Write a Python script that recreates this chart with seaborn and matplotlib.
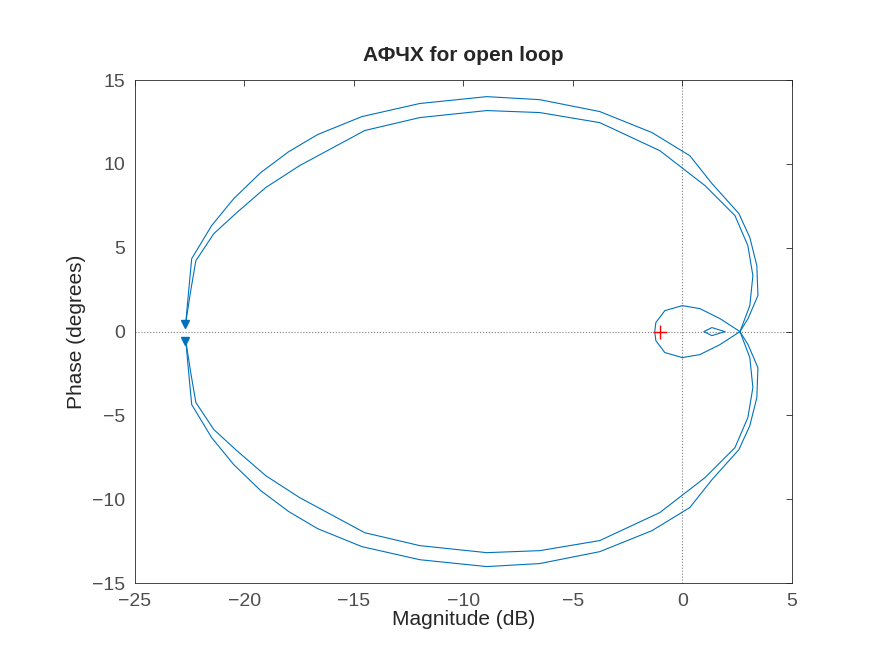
"""Nyquist-Diagramm (АФЧХ) für den offenen Regelkreis."""

import matplotlib.pyplot as plt
import seaborn as sns

# Äußere Kurve, obere Hälfte (Magnitude, Phase)
outer_up_x = [-22.67, -22.58, -22.40, -21.49, -20.48, -19.25, -17.97, -16.65, -14.63,
              -11.99, -8.93, -6.51, -3.77, -1.39, 0.34, 1.35, 2.58, 3.08, 3.40, 3.45, 3.00, 2.63]
outer_up_y = [0.54, 1.85, 4.35, 6.32, 7.93, 9.48, 10.73, 11.75, 12.82,
              13.60, 14.01, 13.83, 13.12, 11.87, 10.49, 8.83, 7.04, 5.61, 3.94, 2.15, 0.78, 0.0]
outer_lo_x = [-22.67, -22.58, -22.40, -21.49, -20.48, -19.25, -17.97, -16.65, -14.63,
              -11.99, -8.93, -6.51, -3.77, -1.39, 0.34, 1.35, 2.58, 3.08, 3.40, 3.45, 3.00, 2.63]
outer_lo_y = [-0.54, -1.85, -4.35, -6.32, -7.93, -9.48, -10.73, -11.75, -12.82,
              -13.60, -14.01, -13.83, -13.12, -11.87, -10.49, -8.83, -7.04, -5.61, -3.94, -2.15, -0.78, 0.0]

# Innere Kurve
inner_up_x = [-22.67, -22.45, -22.21, -21.39, -20.39, -19.02, -17.47, -14.50, -11.99, -8.93,
              -6.51, -3.77, -1.03, 1.03, 2.40, 2.99, 3.22, 3.08, 2.63]
inner_up_y = [0.54, 2.40, 4.23, 5.84, 7.04, 8.59, 9.90, 11.99, 12.76, 13.18,
              13.06, 12.46, 10.79, 8.71, 6.92, 5.13, 3.34, 1.55, 0.0]
inner_lo_x = [-22.67, -22.45, -22.21, -21.39, -20.39, -19.02, -17.47, -14.50, -11.99, -8.93,
              -6.51, -3.77, -1.03, 1.03, 2.40, 2.99, 3.22, 3.08, 2.63]
inner_lo_y = [-0.54, -2.40, -4.23, -5.84, -7.04, -8.59, -9.90, -11.99, -12.76, -13.18,
              -13.06, -12.46, -10.79, -8.71, -6.92, -5.13, -3.34, -1.55, 0.0]

# Kleine Schleife um -1
loop_x = [2.63, 1.71, 0.80, 0.0, -0.80, -1.21, -1.26, -1.21, -0.80, 0.0, 0.80, 1.71, 2.63]
loop_y = [0.0, 0.78, 1.37, 1.55, 1.25, 0.54, 0.0, -0.54, -1.25, -1.55, -1.37, -0.78, 0.0]
tiny_x = [1.94, 1.35, 0.98, 1.35, 1.94]
tiny_y = [0.0, 0.24, 0.0, -0.24, 0.0]

arrow_x = [-22.7, -22.7]
arrow_y = [0.45, -0.55]

sns.set_style("white")
plt.rcParams["font.family"] = ["Liberation Sans", "DejaVu Sans"]
blue = "#0072BD"

fig = plt.figure(figsize=(8.75, 6.56), dpi=100)
ax = fig.add_axes([0.154, 0.111, 0.751, 0.767])

for xs, ys in [(outer_up_x, outer_up_y), (outer_lo_x, outer_lo_y),
               (inner_up_x, inner_up_y), (inner_lo_x, inner_lo_y),
               (loop_x, loop_y), (tiny_x, tiny_y)]:
    sns.lineplot(x=xs, y=ys, sort=False, estimator=None, color=blue, linewidth=0.8, ax=ax)

ax.plot(arrow_x, arrow_y, linestyle="none", marker="v", color=blue, markersize=6)
ax.plot([-1], [0], marker="+", color="red", markersize=10, markeredgewidth=1)
ax.axhline(0, color="#808080", linestyle=":", linewidth=0.8, zorder=0)
ax.axvline(0, color="#808080", linestyle=":", linewidth=0.8, zorder=0)

ax.set_xlim(-25, 5)
ax.set_ylim(-15, 15)
ax.set_xticks(range(-25, 6, 5))
ax.set_yticks(range(-15, 16, 5))
ax.tick_params(direction="in", labelsize=14, top=True, right=True,
               length=4, width=0.6, labelcolor="#4d4d4d", color="#262626", pad=7)
for s in ax.spines.values():
    s.set_color("#262626")
    s.set_linewidth(0.6)
ax.set_xlabel("Magnitude (dB)", fontsize=15, labelpad=0)
ax.set_ylabel("Phase (degrees)", fontsize=15, labelpad=4)
ax.set_title("АФЧХ for open loop", fontsize=15, fontweight="bold", pad=14)

plt.savefig("out.png", dpi=100)
plt.close()
